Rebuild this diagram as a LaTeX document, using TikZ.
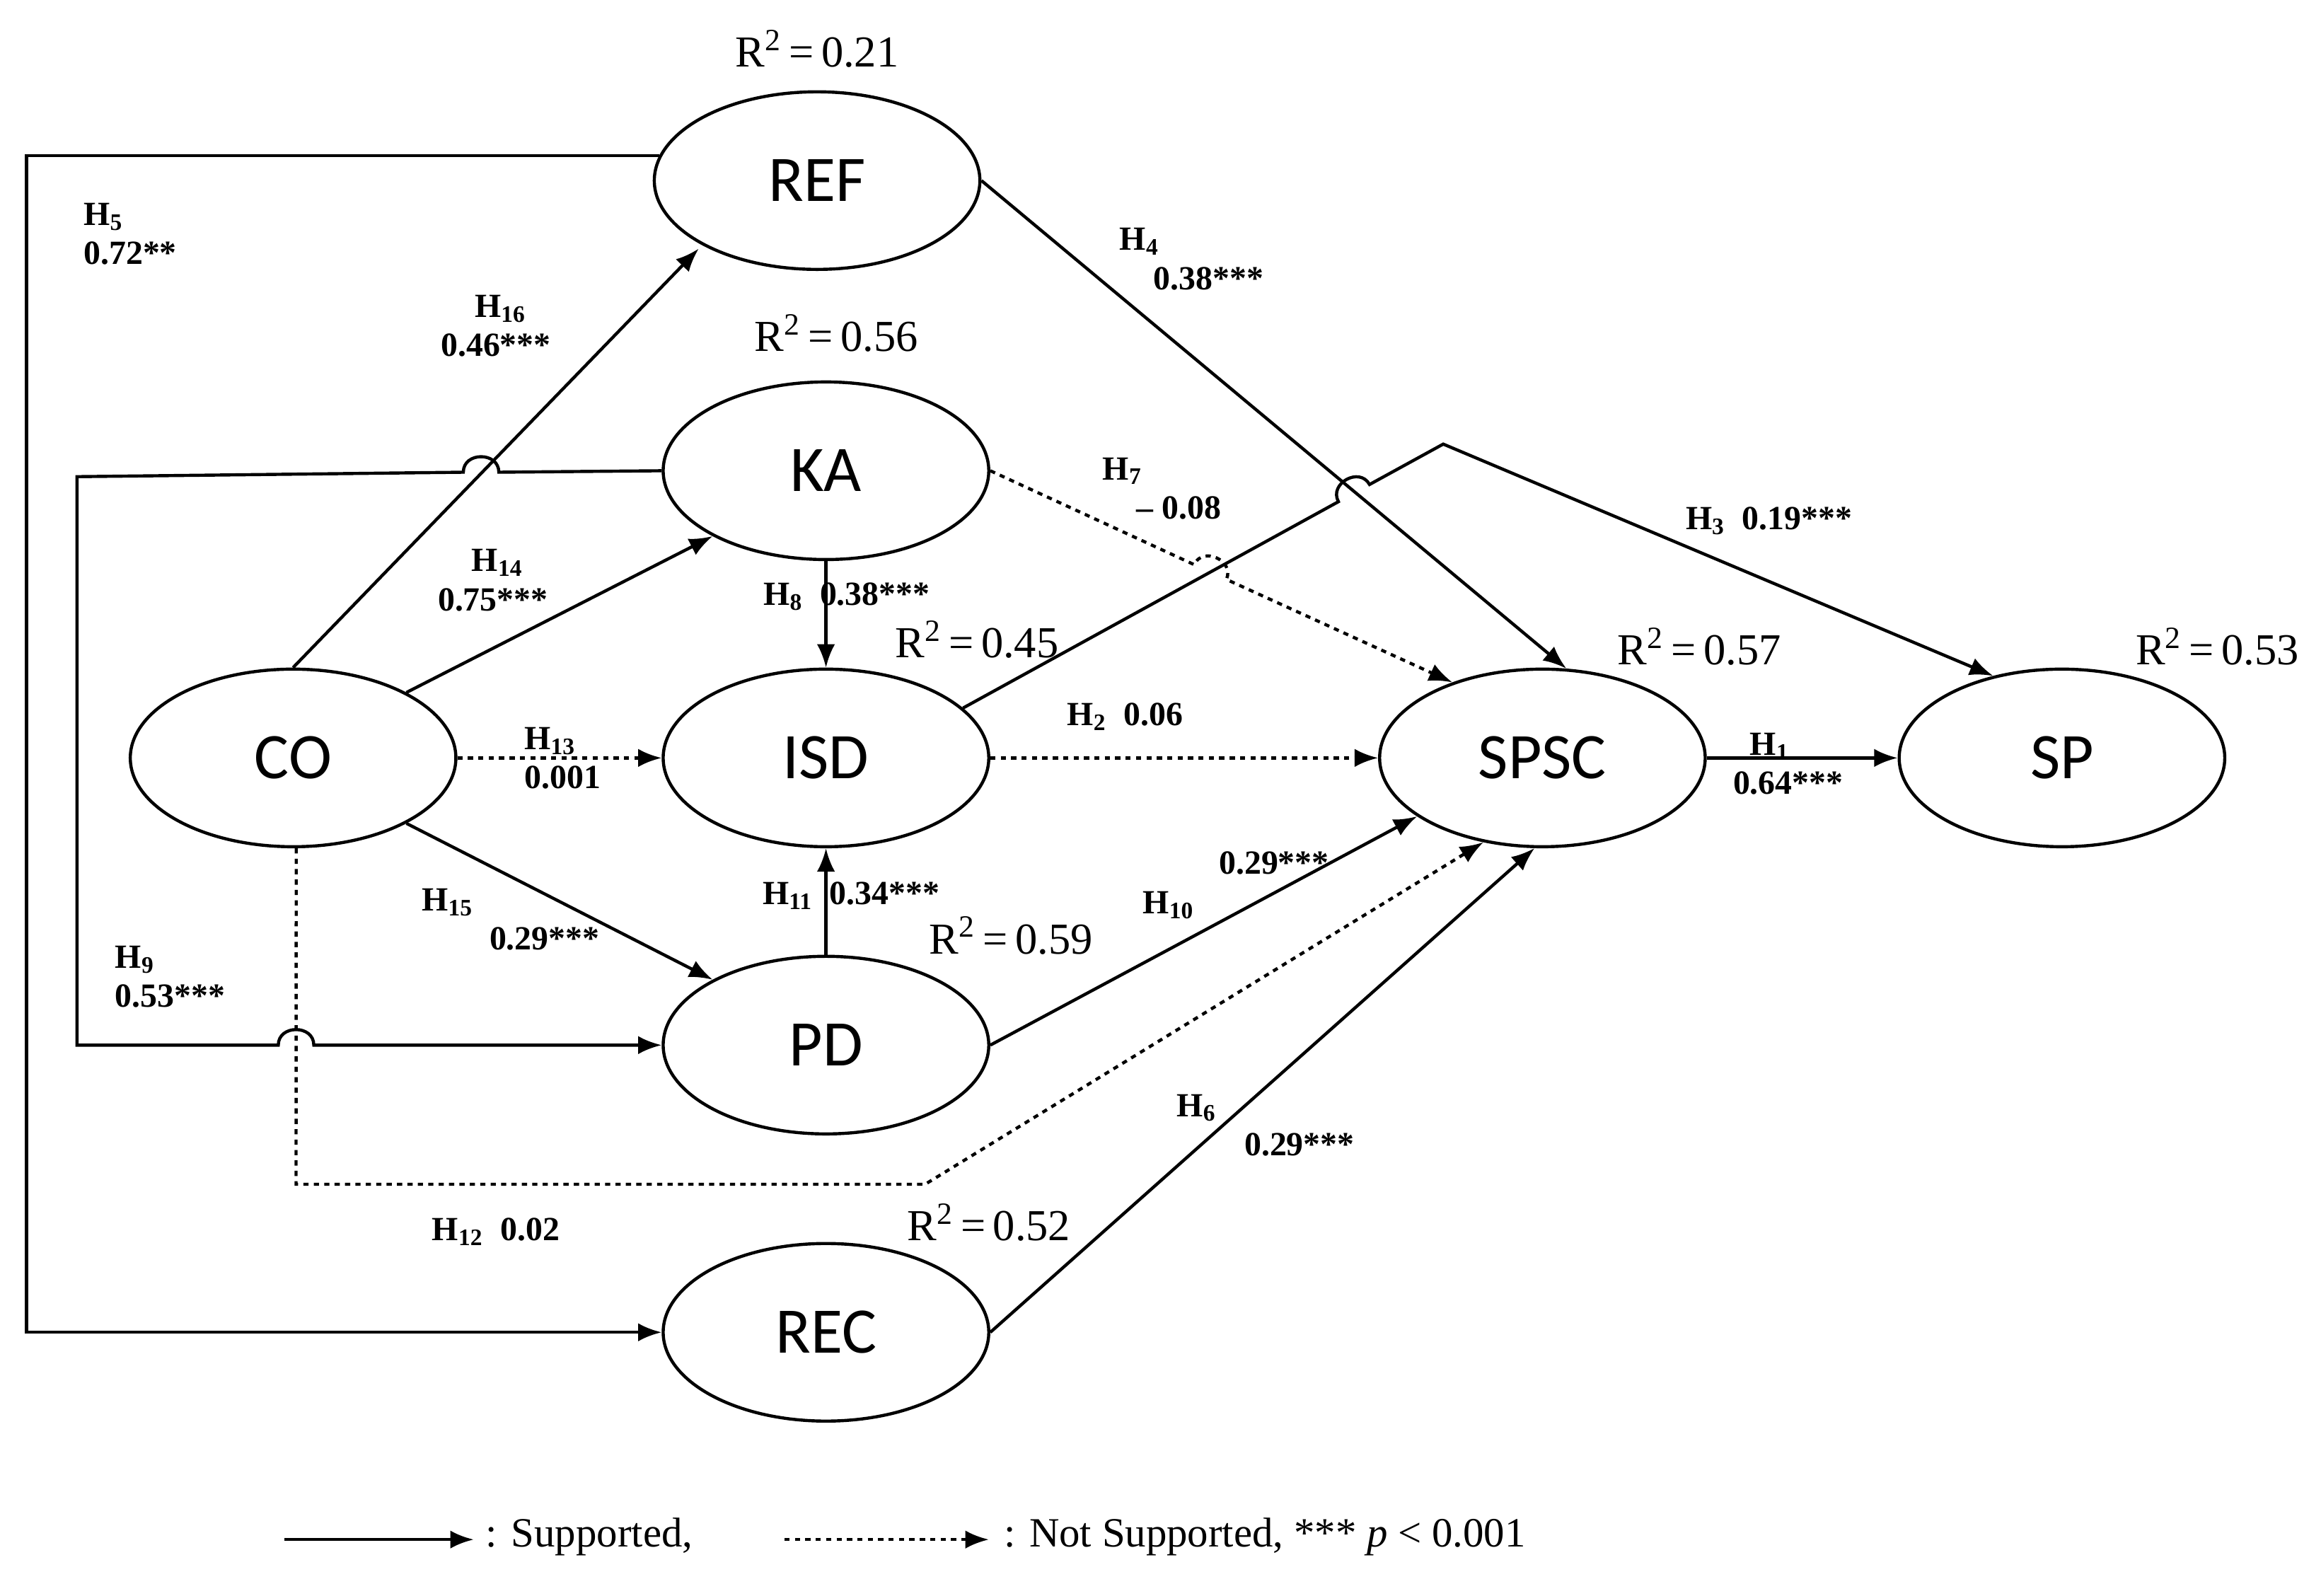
\documentclass[tikz,border=0pt]{standalone}
\usepackage{fontspec}
\setmainfont{Liberation Serif}
\newfontfamily\carfont{Carlito}
\usetikzlibrary{arrows.meta,shapes.geometric}
\begin{document}
\begin{tikzpicture}[x=0.02cm,y=-0.02cm,
 lv/.style={draw,ellipse,line width=1.2pt,minimum width=4.4cm,minimum height=2.4cm,font=\carfont\fontsize{25}{28}\selectfont},
 ar/.style={line width=1.2pt,-{Latex[length=9pt,width=7pt]}},
 dt/.style={ar,dash pattern=on 2pt off 2pt},
 lb/.style={font=\fontsize{13}{15}\selectfont\bfseries,align=left},
 rs/.style={font=\fontsize{17}{20}\selectfont}]
\useasboundingbox (0,0) rectangle (1568,1078);
\node[lv] (REF) at (552,122) {REF};
\node[lv] (KA) at (558,318) {KA};
\node[lv] (CO) at (198,512) {CO};
\node[lv] (ISD) at (558,512) {ISD};
\node[lv] (SPSC) at (1042,512) {SPSC};
\node[lv] (SP) at (1393,512) {SP};
\node[lv] (PD) at (558,706) {PD};
\node[lv] (REC) at (558,900) {REC};
\node[rs] (r1) at (552,33) {R\textsuperscript{2}\,=\,0.21};
\node[rs] (r2) at (565,225) {R\textsuperscript{2}\,=\,0.56};
\node[rs] (r3) at (660,432) {R\textsuperscript{2}\,=\,0.45};
\node[rs] (r4) at (1148,437) {R\textsuperscript{2}\,=\,0.57};
\node[rs] (r5) at (1498,437) {R\textsuperscript{2}\,=\,0.53};
\node[rs] (r6) at (683,632) {R\textsuperscript{2}\,=\,0.59};
\node[rs] (r7) at (668,826) {R\textsuperscript{2}\,=\,0.52};
% connectors
\coordinate (c0) at (18,0);
\draw[ar] (CO.90) -- (472,168);
\draw[ar] (REF.171) -- (REF.171 -| c0) -- (18,900) -- (REC.west);
\draw[ar] (KA.west) -- (337,319) .. controls (337,305) and (313,305) .. (313,319) -- (52,322) -- (52,706) -- (188,706) .. controls (188,692) and (212,692) .. (212,706) -- (PD.west);
\draw[ar] (CO.30) -- (KA.210);
\draw[dt] (CO.east) -- (ISD.west);
\draw[ar] (CO.-30) -- (PD.150);
\coordinate (c1) at (200,800);
\coordinate (c2) at (625,800);
\draw[dt] (CO.272) -- (c1) -- (c2) -- (SPSC.235);
\draw[ar] (KA.south) -- (ISD.north);
\draw[ar] (PD.north) -- (ISD.south);
\draw[dt] (KA.east) -- (806.7,381.4) .. controls (812.5,368.7) and (834.3,378.7) .. (828.5,391.4) -- (SPSC.140);
\draw[ar] (REF.east) -- (SPSC.75);
\draw[ar] (ISD.20) -- (904.2,338.9) .. controls (897.5,326.6) and (918.5,315) .. (925.2,327.3) -- (975,300) -- (SP.130);
\draw[dt] (ISD.east) -- (SPSC.west);
\draw[ar] (PD.east) -- (SPSC.205);
\draw[ar] (REC.east) -- (SPSC.265);
\draw[ar] (SPSC.east) -- (SP.west);
% labels
\node[lb] (l16) at (335,220) {\quad H\textsubscript{16}\\0.46***};
\node[lb] (l5) at (88,158) {H\textsubscript{5}\\0.72**};
\node[lb] (l14) at (333,392) {\quad H\textsubscript{14}\\0.75***};
\node[lb] (l13) at (380,512) {H\textsubscript{13}\\0.001};
\node[lb] (l15) at (345,621) {H\textsubscript{15}\\\qquad 0.29***};
\node[lb] (l9) at (115,660) {H\textsubscript{9}\\0.53***};
\node[lb] (l12) at (335,832) {H\textsubscript{12}\ \ 0.02};
\node[lb] (l8) at (572,403) {H\textsubscript{8}\ \ 0.38***};
\node[lb] (l11) at (575,605) {H\textsubscript{11}\ \ 0.34***};
\node[lb] (l7) at (785,330) {H\textsubscript{7}\\\quad\textendash\ 0.08};
\node[lb] (l4) at (805,175) {H\textsubscript{4}\\\quad 0.38***};
\node[lb] (l3) at (1195,352) {H\textsubscript{3}\ \ 0.19***};
\node[lb] (l2) at (760,484) {H\textsubscript{2}\ \ 0.06};
\node[lb] (l10) at (835,598) {\qquad\ 0.29***\\H\textsubscript{10}};
\node[lb] (l6) at (855,760) {H\textsubscript{6}\\\qquad 0.29***};
\node[lb] (l1) at (1208,516) {\ \ H\textsubscript{1}\\0.64***};
% legend
\coordinate (a1) at (192,1040); \coordinate (a2) at (320,1040);
\coordinate (b1) at (530,1040); \coordinate (b2) at (668,1040);
\draw[ar] (a1) -- (a2);
\draw[dt] (b1) -- (b2);
\node[anchor=west,font=\fontsize{16}{19}\selectfont] (t1) at (322,1038) {: Supported,};
\node[anchor=west,font=\fontsize{16}{19}\selectfont] (t2) at (672,1038) {: Not Supported, *** \textit{p} < 0.001};
\end{tikzpicture}
\end{document}
